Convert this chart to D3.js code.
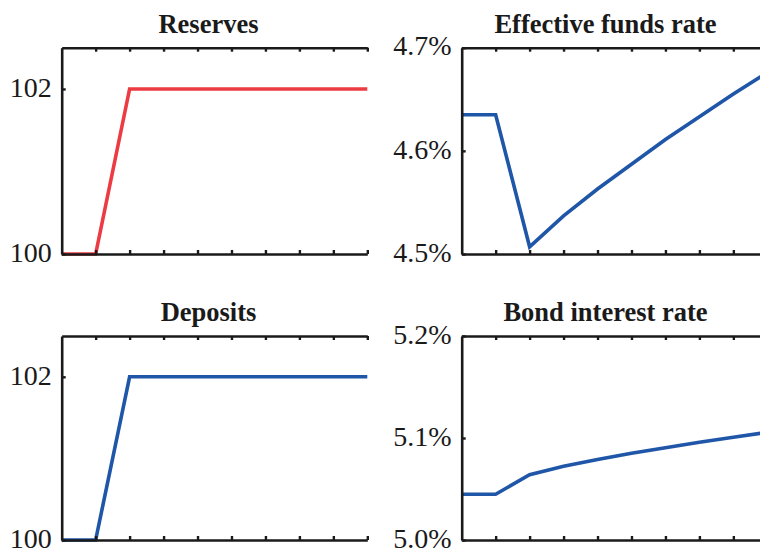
<!DOCTYPE html>
<html><head><meta charset="utf-8">
<script src="https://cdn.jsdelivr.net/npm/d3@7"></script>
<style>
html,body{margin:0;padding:0;background:#fff;overflow:hidden;}
svg{display:block;}
text{font-family:"Liberation Serif","Times New Roman",serif;fill:#1a1a1a;}
</style></head>
<body>
<script>
const periods = [0,1,2,3,4,5,6,7,8,9];
const reserves = [100,100,102,102,102,102,102,102,102,102];
const deposits = [100,100,102,102,102,102,102,102,102,102];
const fundsRate = [4.635,4.635,4.507,4.537,4.563,4.587,4.611,4.633,4.655,4.676];
const bondRate = [5.0448,5.0448,5.064,5.0722,5.079,5.085,5.0905,5.0958,5.1007,5.1055];
const titles = ["Reserves","Effective funds rate","Deposits","Bond interest rate"];
const levelTicks = [100,102];
const fundsTicks = [4.5,4.6,4.7];
const bondTicks = [5.0,5.1,5.2];

const W=760,H=549;
const svg=d3.select("body").append("svg").attr("width",W).attr("height",H);

const panels=[
 {title:titles[0],data:reserves,domain:[100,102.5],ticks:levelTicks,fmt:d3.format("d"),color:"#ec3b42",x0:61.7,y0:47.7,y1:254},
 {title:titles[1],data:fundsRate,domain:[4.5,4.7],ticks:fundsTicks,fmt:d=>d3.format(".1f")(d)+"%",color:"#1f56a8",x0:461.7,y0:47.7,y1:254},
 {title:titles[2],data:deposits,domain:[100,102.5],ticks:levelTicks,fmt:d3.format("d"),color:"#1f56a8",x0:61.7,y0:336,y1:540},
 {title:titles[3],data:bondRate,domain:[5.0,5.2],ticks:bondTicks,fmt:d=>d3.format(".1f")(d)+"%",color:"#1f56a8",x0:461.7,y0:336,y1:540}
];
const pw=305.6;

panels.forEach((p,k)=>{
  const x=d3.scaleLinear().domain([0,9]).range([p.x0,p.x0+pw]);
  const y=d3.scaleLinear().domain(p.domain).range([p.y1,p.y0]);
  const g=svg.append("g");
  g.append("path").datum(periods.map((t,i)=>[t,p.data[i]]))
    .attr("fill","none").attr("stroke",p.color).attr("stroke-width",3.6)
    .attr("stroke-linejoin","miter")
    .attr("d",d3.line().x(d=>x(d[0])).y(d=>y(d[1])));
  const axStyle=sel=>{sel.select(".domain").attr("stroke","#1a1a1a").attr("stroke-width",2.6);
    sel.selectAll(".tick line").attr("stroke","#1a1a1a").attr("stroke-width",2.4);};
  const top=g.append("g").attr("transform",`translate(0,${p.y0})`)
    .call(d3.axisBottom(x).tickValues(periods.slice(1)).tickSize(4).tickSizeOuter(0).tickFormat(""));
  axStyle(top);
  const bot=g.append("g").attr("transform",`translate(0,${p.y1})`)
    .call(d3.axisTop(x).tickValues(periods.slice(1)).tickSize(4).tickSizeOuter(0).tickFormat(""));
  axStyle(bot);
  const left=g.append("g").attr("transform",`translate(${p.x0},0)`)
    .call(d3.axisRight(y).tickValues(p.ticks).tickSize(4).tickSizeOuter(0).tickFormat(p.fmt));
  axStyle(left);
  left.attr("font-family",null);
  left.selectAll(".tick text").attr("x",-10).attr("text-anchor","end")
    .attr("dy","0.26em").style("font-size","28px").style("font-family","'Liberation Serif', serif").attr("fill","#222");
  g.append("text").attr("x",p.x0+pw/2-(k%2?9:6)).attr("y",p.y0-15).attr("text-anchor","middle")
    .style("font-size","26.5px").style("font-weight","bold").text(p.title);
});
</script>
</body></html>
